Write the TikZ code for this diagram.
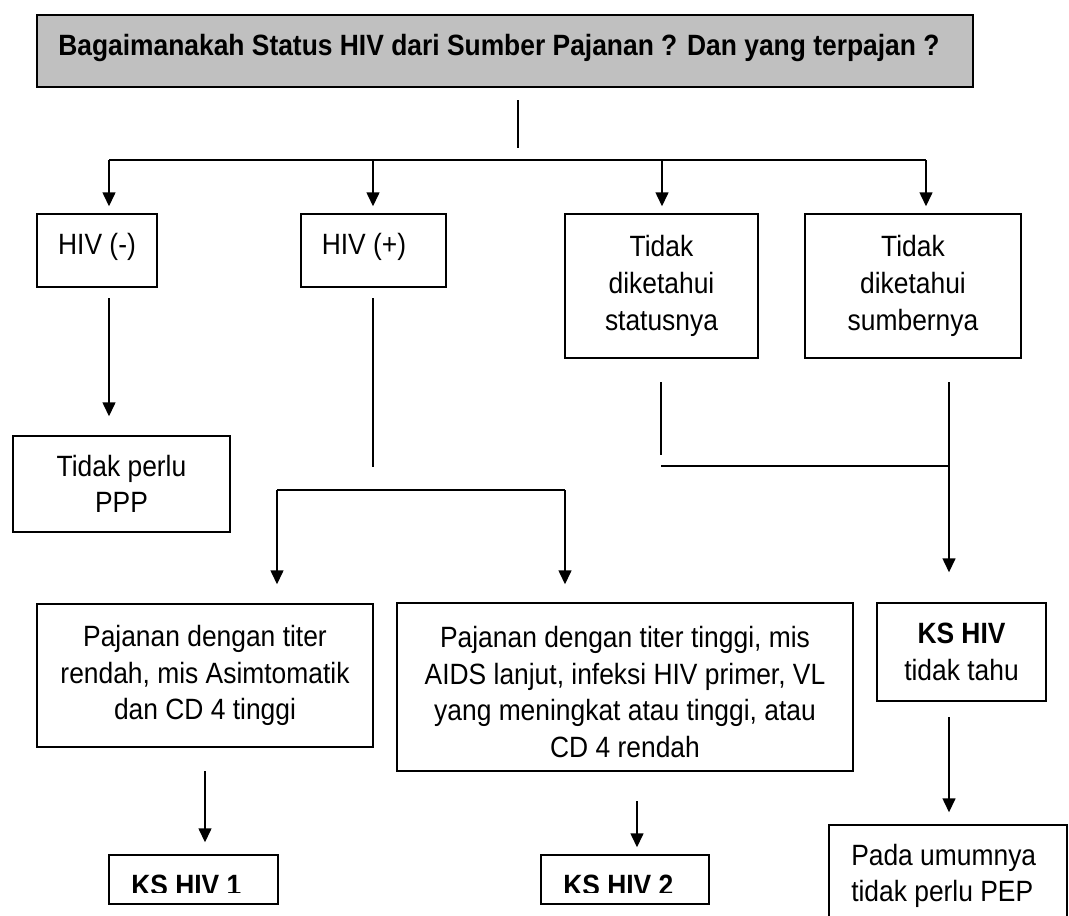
\documentclass[tikz,border=0pt]{standalone}
\usepackage{fontspec}
\setmainfont{Liberation Sans}[FakeStretch=0.9]
\usetikzlibrary{arrows.meta}
\def\pxu{0.75pt}
\newcommand\txtfont{\fontsize{22pt}{27.5pt}\selectfont}
\begin{document}
\begin{tikzpicture}[x=0.75pt, y=-0.75pt,
  box/.style={draw, line width=1.1pt, inner sep=0pt, align=center, font=\txtfont},
  txt/.style={inner sep=0pt, align=center, font=\txtfont},
  btxt/.style={inner sep=0pt, align=center, font=\txtfont\bfseries},
  link/.style={line width=1.1pt},
  arr/.style={line width=1.1pt, -{Triangle[width=9.75pt, length=10.5pt]}}]
\useasboundingbox (0,0) rectangle (1069,915);
\fill[white] (0,0) rectangle (1069,915);

% header
\node[box, fill={rgb,255:red,192;green,192;blue,192}, minimum width=936*\pxu, minimum height=72*\pxu] (title) at (505,51) {};
\node[btxt, anchor=base west] (titletext) at (58,55) {Bagaimanakah Status HIV dari Sumber Pajanan ? Dan yang terpajan ?};

% first level
\node[box, minimum width=120*\pxu, minimum height=73*\pxu] (hivneg) at (97,250.5) {};
\node[txt, anchor=base] (hivnegtext) at (97,254) {HIV (-)};
\node[box, minimum width=145*\pxu, minimum height=73*\pxu] (hivpos) at (373.5,250.5) {};
\node[txt, anchor=base] (hivpostext) at (364,254) {HIV (+)};
\node[box, minimum width=193*\pxu, minimum height=144*\pxu] (status) at (661.5,286) {Tidak\\diketahui\\statusnya};
\node[box, minimum width=216*\pxu, minimum height=144*\pxu] (sumber) at (913,286) {Tidak\\diketahui\\sumbernya};

% second level
\node[box, minimum width=217*\pxu, minimum height=96*\pxu] (ppp) at (121.5,484) {Tidak perlu\\PPP};
\node[box, minimum width=336*\pxu, minimum height=143*\pxu] (low) at (205,675.5) {Pajanan dengan titer\\rendah, mis Asimtomatik\\dan CD 4 tinggi};
\node[box, minimum width=456*\pxu, minimum height=168*\pxu] (high) at (625,687) {};
\node[txt] (hightext) at (625,692) {Pajanan dengan titer tinggi, mis\\AIDS lanjut, infeksi HIV primer, VL\\yang meningkat atau tinggi, atau\\CD 4 rendah};
\node[box, minimum width=169*\pxu, minimum height=98*\pxu] (ksunk) at (961.5,652) {\textbf{KS HIV}\\tidak tahu};

% outcomes
\node[box, minimum width=169*\pxu, minimum height=49*\pxu] (ks1) at (193.5,879.5) {};
\node[box, minimum width=168*\pxu, minimum height=49*\pxu] (ks2) at (625,879.5) {};
\node[box, minimum width=238*\pxu, minimum height=135*\pxu] (pep) at (948,892.5) {};
\node[txt, align=left, anchor=west] (peptext) at (851,876) {Pada umumnya\\tidak perlu PEP};

\coordinate (cut) at (0,892);
\begin{scope}
  \clip (ks1.north west) rectangle (ks1.east |- cut);
  \node[btxt, anchor=base west] (ks1text) at (131,895) {KS HIV 1};
\end{scope}
\begin{scope}
  \clip (ks2.north west) rectangle (ks2.east |- cut);
  \node[btxt, anchor=base west] (ks2text) at (563,895) {KS HIV 2};
\end{scope}

% branching below the header
\coordinate (trunktop) at (518,100);
\coordinate (trunkbot) at (518,148);
\draw[link] (trunktop) -- (trunkbot);
\coordinate (bar1) at (109,160);
\coordinate (bar2) at (373,160);
\coordinate (bar3) at (662,160);
\coordinate (bar4) at (926,160);
\draw[link] (bar1) -- (bar4);
\draw[arr, shorten >=5.25pt] (bar1) -- (bar1 |- hivneg.north);
\draw[arr, shorten >=5.25pt] (bar2) -- (bar2 |- hivpos.north);
\draw[arr, shorten >=5.25pt] (bar3) -- (bar3 |- status.north);
\draw[arr, shorten >=5.25pt] (bar4) -- (bar4 |- sumber.north);

% HIV negative
\coordinate (neg1) at (109,298);
\draw[arr, shorten >=14.25pt] (neg1) -- (neg1 |- ppp.north);

% HIV positive
\coordinate (pos1) at (373,298);
\coordinate (pos2) at (373,467);
\draw[link] (pos1) -- (pos2);
\coordinate (posL) at (277,490);
\coordinate (posR) at (565,490);
\draw[link] (posL) -- (posR);
\draw[arr, shorten >=14.25pt] (posL) -- (posL |- low.north);
\draw[arr, shorten >=13.5pt] (posR) -- (posR |- high.north);

% unknown status / source
\coordinate (st1) at (661,382);
\coordinate (st2) at (661,455);
\draw[link] (st1) -- (st2);
\coordinate (joinL) at (661,466);
\coordinate (joinR) at (949,466);
\draw[link] (joinL) -- (joinR);
\coordinate (su1) at (949,382);
\draw[arr, shorten >=22.5pt] (su1) -- (su1 |- ksunk.north);

% to outcomes
\coordinate (lo1) at (205,771);
\draw[arr, shorten >=9pt] (lo1) -- (lo1 |- ks1.north);
\coordinate (hi1) at (637,801);
\draw[arr, shorten >=5.25pt] (hi1) -- (hi1 |- ks2.north);
\coordinate (un1) at (949,717);
\draw[arr, shorten >=9pt] (un1) -- (un1 |- pep.north);
\end{tikzpicture}
\end{document}
